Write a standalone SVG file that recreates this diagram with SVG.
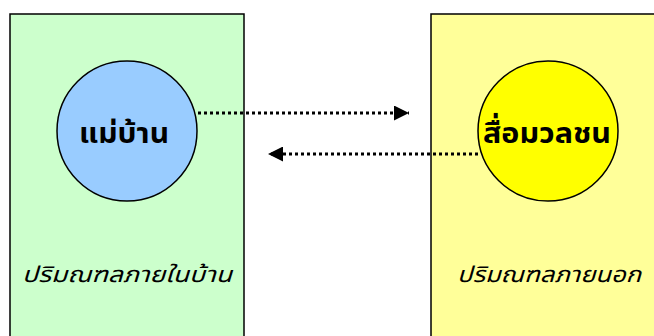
<svg xmlns="http://www.w3.org/2000/svg" width="654" height="336" viewBox="0 0 654 336">
<defs>
<style>
.box{stroke:#000;stroke-width:1.5}
.circ{stroke:#000;stroke-width:1.5}
.lbl{font-family:"Noto Sans Thai","Noto Sans","DejaVu Sans",sans-serif;fill:#000}
.big{font-size:29px;font-weight:bold}
.sub{font-size:22px;font-style:italic}
.conn{stroke:#000;stroke-width:3;stroke-dasharray:3 3;fill:none}
</style>
<marker id="ah" markerWidth="15" markerHeight="15" viewBox="0 0 15 15" refX="15" refY="7.5" orient="auto" markerUnits="userSpaceOnUse">
<path d="M0,0 L15,7.5 L0,15 Z" fill="#000"/>
</marker>
</defs>
<g id="home">
<rect class="box" x="10" y="14" width="234" height="330" fill="#CCFFCC"/>
<text class="lbl sub" x="22" y="282" textLength="210" lengthAdjust="spacingAndGlyphs">ปริมณฑลภายในบ้าน</text>
</g>
<g id="outside">
<rect class="box" x="431" y="14" width="230" height="330" fill="#FFFF99"/>
<text class="lbl sub" x="457" y="282" textLength="184" lengthAdjust="spacingAndGlyphs">ปริมณฑลภายนอก</text>
</g>
<g id="housewife">
<circle class="circ" cx="127" cy="131" r="70" fill="#99CCFF"/>
<text class="lbl big" x="79" y="143" textLength="90" lengthAdjust="spacingAndGlyphs">แม่บ้าน</text>
</g>
<g id="media">
<circle class="circ" cx="548" cy="131" r="70" fill="#FFFF00"/>
<text class="lbl big" x="483" y="143" textLength="128" lengthAdjust="spacingAndGlyphs">สื่อมวลชน</text>
</g>
<g id="connectors">
<line class="conn" x1="198" y1="113" x2="409" y2="113" marker-end="url(#ah)"/>
<line class="conn" x1="478" y1="154" x2="268" y2="154" marker-end="url(#ah)"/>
</g>
</svg>
